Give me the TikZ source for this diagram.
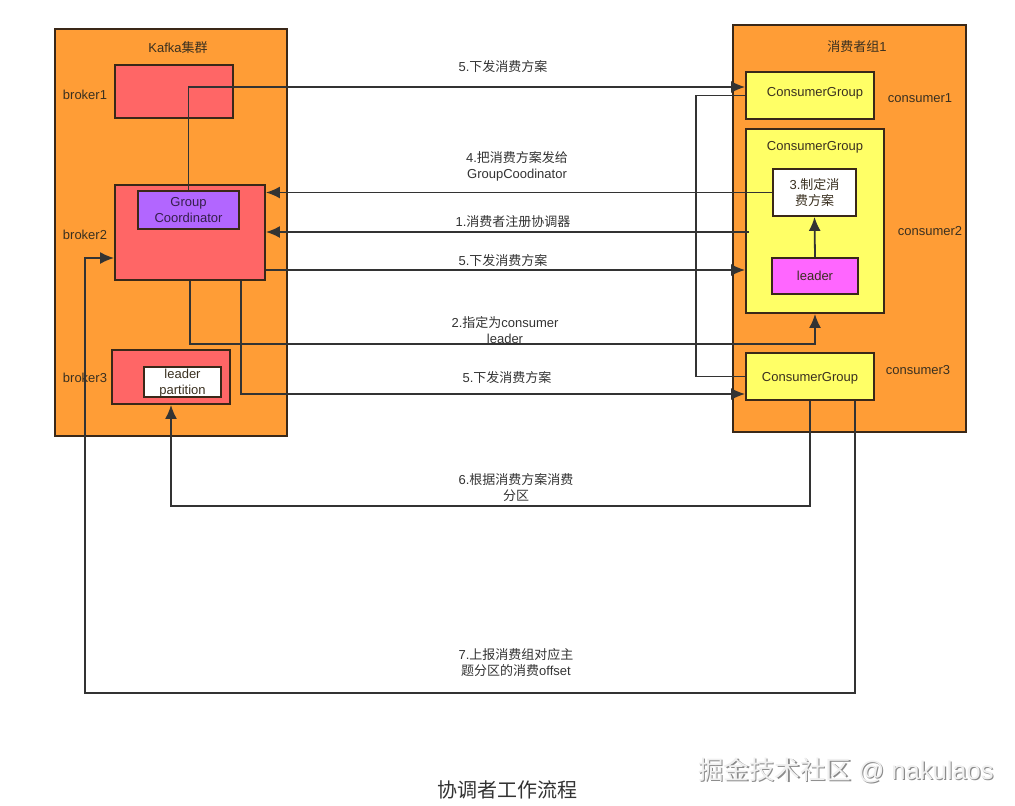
\documentclass[tikz,border=0pt]{standalone}
\usepackage{fontspec}
\setmainfont{Liberation Sans}
\newfontfamily\cjk{Noto Sans CJK SC}
\usetikzlibrary{arrows.meta}
\definecolor{orangeF}{HTML}{FF9D36}
\definecolor{redF}{HTML}{FF6666}
\definecolor{yellowF}{HTML}{FFFF66}
\definecolor{purpleF}{HTML}{B266FF}
\definecolor{magentaF}{HTML}{FF66FF}
\definecolor{borderC}{HTML}{3A2818}
\definecolor{lineC}{HTML}{333333}
\definecolor{txtC}{HTML}{3A3020}
\tikzset{
  box/.style={draw=borderC, line width=1.8pt, inner sep=0pt, align=center, text=txtC,
     font=\fontsize{13}{16}\selectfont},
  lbl/.style={inner sep=0pt, align=center, text=txtC, font=\fontsize{13}{16}\selectfont},
  clbl/.style={inner sep=0pt, align=center, text=black!80, font=\fontsize{13}{16}\selectfont},
  ln/.style={draw=lineC, line width=1.8pt},
  arr/.style={ln, -{Latex[length=14pt,width=12pt]}},
}
\begin{document}
\begin{tikzpicture}[x=1pt,y=-1pt]
\path[use as bounding box, fill=white] (0,0) rectangle (1015,806);

% clusters
\node[box, fill=orangeF, minimum width=232pt, minimum height=407pt] (kafka) at (171,232.5) {};
\node[box, fill=orangeF, minimum width=233pt, minimum height=407pt] (group) at (849.5,228.5) {};
\node[lbl] (kafkat) at (178,48) {Kafka{\cjk 集群}};
\node[lbl] (groupt) at (857,47) {{\cjk 消费者组}1};

% brokers
\node[box, fill=redF, minimum width=118pt, minimum height=53pt] (b1) at (174,91.5) {};
\node[box, fill=redF, minimum width=150pt, minimum height=95pt] (b2) at (190,232.5) {};
\node[box, fill=purpleF, minimum width=101pt, minimum height=38pt, text=black!70!purpleF] (gc) at (188.5,210) {Group\\Coordinator};
\node[box, fill=redF, minimum width=118pt, minimum height=54pt] (b3) at (171,377) {};
\node[box, fill=white, minimum width=77pt, minimum height=30pt] (lp) at (182.5,382) {};
\node[lbl] (lpt) at (182.5,383.5) {leader\\partition};
\node[lbl] (b1t) at (85,95) {broker1};
\node[lbl] (b2t) at (85,235) {broker2};
\node[lbl] (b3t) at (85,378) {broker3};

% consumers
\node[box, fill=yellowF, minimum width=128pt, minimum height=47pt] (c1) at (810,95.5) {};
\node[lbl] (c1t) at (815,93) {ConsumerGroup};
\node[box, fill=yellowF, minimum width=138pt, minimum height=184pt] (c2) at (815,221) {};
\node[lbl] (c2t) at (815,147) {ConsumerGroup};
\node[box, fill=white, minimum width=83pt, minimum height=47pt] (plan) at (814.5,192.5) {3.{\cjk 制定消}\\{\cjk 费方案}};
\node[box, fill=magentaF, minimum width=86pt, minimum height=36pt] (leader) at (815,276) {leader};
\node[box, fill=yellowF, minimum width=128pt, minimum height=47pt] (c3) at (810,376.5) {};
\node[lbl] (c3t) at (810,378) {ConsumerGroup};
\node[lbl] (c1l) at (920,98) {consumer1};
\node[lbl] (c2l) at (930,231) {consumer2};
\node[lbl] (c3l) at (918,370) {consumer3};

% connectors
\draw[arr] (leader.north) -- (plan.south);
\draw[arr] (gc.north) |- ([yshift=8.5pt]c1.west);
\draw[ln] (c1.west) -- ++(-49,0) |- (c3.west);
\draw[arr] (plan.west) -- (plan.west -| b2.east);
\coordinate (reg) at ([xshift=4pt,yshift=-11pt]c2.west);
\draw[arr] (reg) -- (reg -| b2.east);
\draw[arr] ([yshift=-37.5pt]b2.east) -- ([yshift=-37.5pt]b2.east -| c2.west);
\draw[arr] (b2.south) -- ++(0,63) -| (c2.south);
\draw[arr] ([xshift=51pt]b2.south) |- ([yshift=-17.5pt]c3.west);
\draw[arr] (c3.south) |- (171,506) -- (b3.south);
\draw[arr] ([xshift=45pt]c3.south) |- (85,693) |- ([yshift=-25.5pt]b2.west);

% connector labels
\node[clbl] (l1) at (503,67) {5.{\cjk 下发消费方案}};
\node[clbl] (l2) at (517,166) {4.{\cjk 把消费方案发给}\\GroupCoodinator};
\node[clbl] (l3) at (513,222) {1.{\cjk 消费者注册协调器}};
\node[clbl] (l4) at (503,261) {5.{\cjk 下发消费方案}};
\node[clbl] (l5) at (505,330) {2.{\cjk 指定为}consumer\\leader};
\node[clbl] (l6) at (507,378) {5.{\cjk 下发消费方案}};
\node[clbl] (l7) at (516,488) {6.{\cjk 根据消费方案消费}\\{\cjk 分区}};
\node[clbl] (l8) at (516,663) {7.{\cjk 上报消费组对应主}\\{\cjk 题分区的消费}offset};

% title and watermark
\node[inner sep=0pt, text=black!80, font=\fontsize{20}{24}\selectfont\cjk] (title) at (507,790) {协调者工作流程};
\node[inner sep=0pt, text=black!45, font=\fontsize{25.5}{30}\selectfont] (wm2) at (847.2,771.2) {{\cjk 掘金技术社区} @ nakulaos};
\node[inner sep=0pt, text=black!6, font=\fontsize{25.5}{30}\selectfont] (wm) at (846,770) {{\cjk 掘金技术社区} @ nakulaos};
\end{tikzpicture}
\end{document}
